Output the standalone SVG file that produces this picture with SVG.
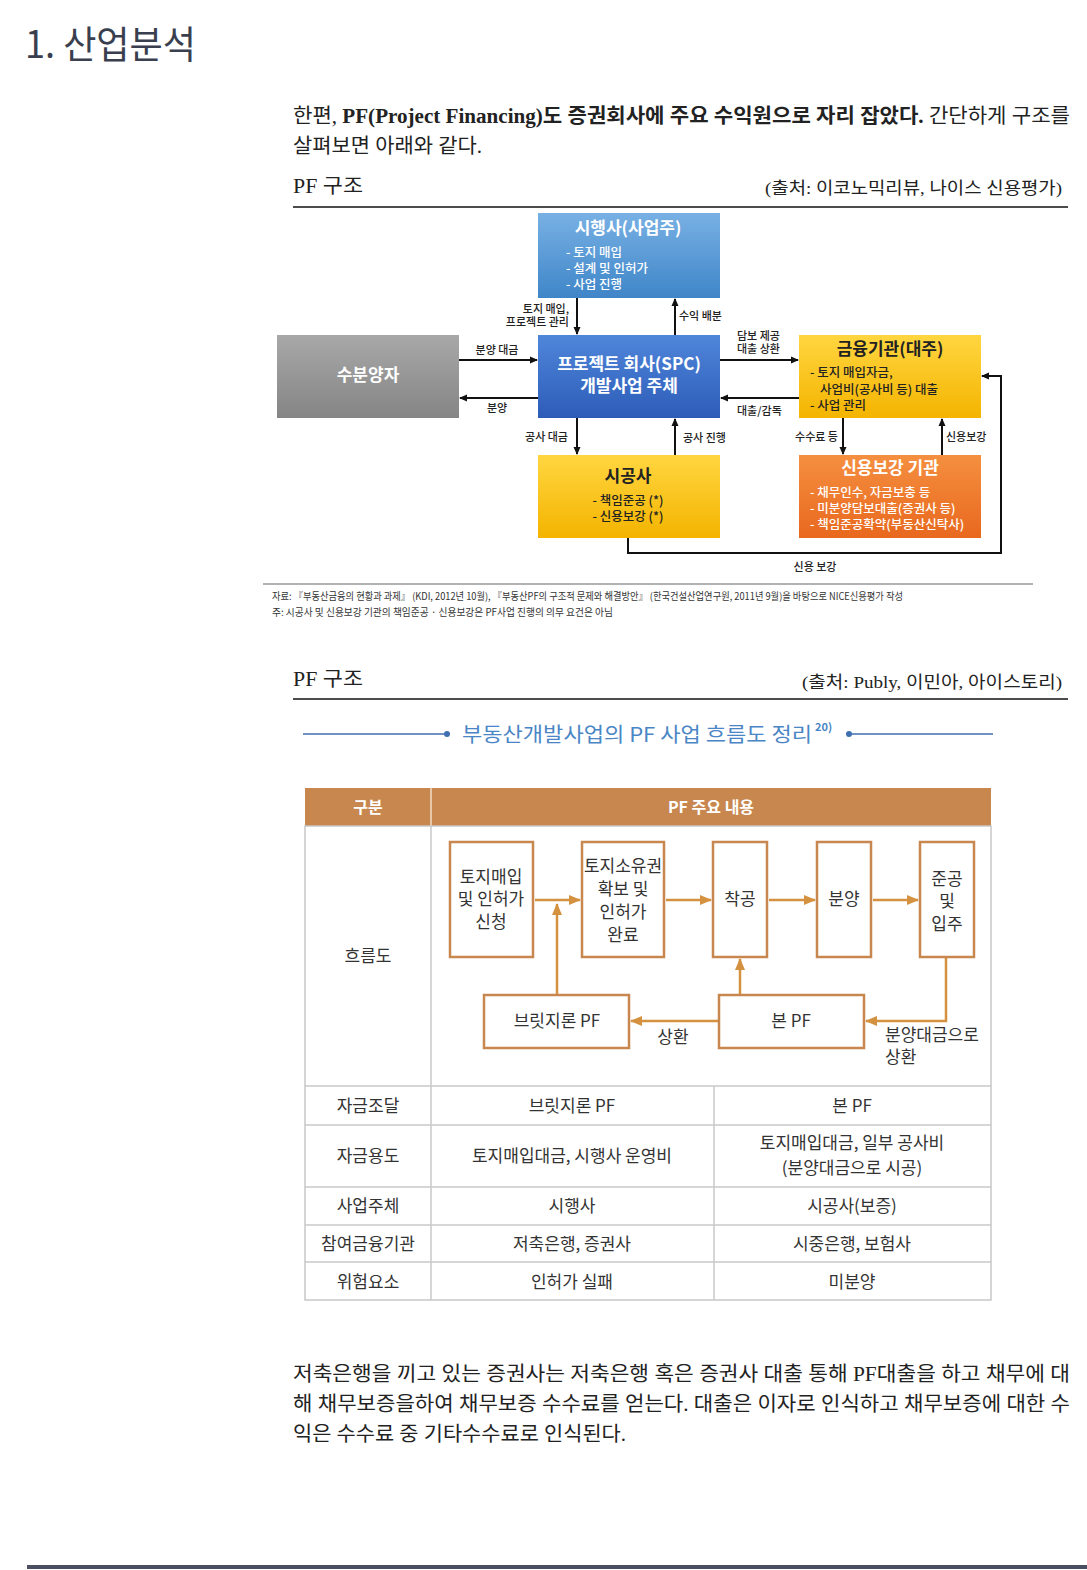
<svg xmlns="http://www.w3.org/2000/svg" width="1087" height="1570" viewBox="0 0 1087 1570">
<defs>
<style>
.serif{font-family:"Liberation Serif","Noto Sans CJK KR",serif;fill:#222}
.sans{font-family:"Noto Sans CJK KR","Noto Sans",sans-serif}
.lbl{font-family:"Noto Sans CJK KR",sans-serif;font-size:11px;font-weight:500;fill:#222}
.bt{font-family:"Noto Sans CJK KR",sans-serif;font-weight:700;font-size:17px}
.it{font-family:"Noto Sans CJK KR",sans-serif;font-weight:500;font-size:12.5px}
.blk{stroke:#111;stroke-width:2;fill:none}
.org{stroke:#d4913f;stroke-width:2.5;fill:none}
.fbox{fill:#fff;stroke:#c8874f;stroke-width:2.5}
.tt{font-family:"Noto Sans CJK KR",sans-serif;font-size:17px;fill:#333;text-anchor:middle}
.ts{font-family:"Noto Sans CJK KR",sans-serif;font-size:17px;fill:#333;text-anchor:start}
.grid{stroke:#c8c8c8;stroke-width:1.5;fill:none}
</style>
<linearGradient id="gBlue1" x1="0" y1="0" x2="0" y2="1"><stop offset="0" stop-color="#78b0e4"/><stop offset="1" stop-color="#3f86c8"/></linearGradient>
<linearGradient id="gBlue2" x1="0" y1="0" x2="0" y2="1"><stop offset="0" stop-color="#4f86da"/><stop offset="1" stop-color="#2d5cb8"/></linearGradient>
<linearGradient id="gGray" x1="0" y1="0" x2="0" y2="1"><stop offset="0" stop-color="#a8a8a8"/><stop offset="1" stop-color="#858585"/></linearGradient>
<linearGradient id="gYel" x1="0" y1="0" x2="0" y2="1"><stop offset="0" stop-color="#ffd640"/><stop offset="1" stop-color="#f4b400"/></linearGradient>
<linearGradient id="gOrg" x1="0" y1="0" x2="0" y2="1"><stop offset="0" stop-color="#f58f40"/><stop offset="1" stop-color="#e8681e"/></linearGradient>
<marker id="ab" markerWidth="8" markerHeight="8" refX="7" refY="4" orient="auto" markerUnits="userSpaceOnUse"><path d="M0,0.5 L8,4 L0,7.5 Z" fill="#111"/></marker>
<marker id="ao" markerWidth="12" markerHeight="12" refX="11" refY="6" orient="auto" markerUnits="userSpaceOnUse"><path d="M0,1 L12,6 L0,11 Z" fill="#d4913f"/></marker>
</defs>
<rect width="1087" height="1570" fill="#fff"/>

<!-- header texts -->
<text x="25" y="58" font-family="Noto Sans CJK KR, sans-serif" font-size="38" fill="#3a3f4f" textLength="171" lengthAdjust="spacingAndGlyphs">1. 산업분석</text>
<text class="serif" x="293" y="123" font-size="20" textLength="777" lengthAdjust="spacingAndGlyphs">한편, <tspan font-weight="bold">PF(Project Financing)도 증권회사에 주요 수익원으로 자리 잡았다.</tspan> 간단하게 구조를</text>
<text class="serif" x="293" y="153" font-size="20" textLength="189" lengthAdjust="spacingAndGlyphs">살펴보면 아래와 같다.</text>
<text class="serif" x="293" y="193" font-size="20" textLength="70" lengthAdjust="spacingAndGlyphs">PF 구조</text>
<text class="serif" x="1062" y="194" font-size="17" text-anchor="end" textLength="297" lengthAdjust="spacingAndGlyphs">(출처: 이코노믹리뷰, 나이스 신용평가)</text>
<line x1="293" y1="207" x2="1068" y2="207" stroke="#111" stroke-width="1.5"/>

<!-- top diagram connectors -->
<g id="connectors-top">
<line class="blk" x1="577" y1="298" x2="577" y2="334" marker-end="url(#ab)"/>
<line class="blk" x1="675" y1="335" x2="675" y2="299" marker-end="url(#ab)"/>
<line class="blk" x1="459" y1="360" x2="537" y2="360" marker-end="url(#ab)"/>
<line class="blk" x1="538" y1="398" x2="460" y2="398" marker-end="url(#ab)"/>
<line class="blk" x1="720" y1="360" x2="798" y2="360" marker-end="url(#ab)"/>
<line class="blk" x1="799" y1="398" x2="721" y2="398" marker-end="url(#ab)"/>
<line class="blk" x1="577" y1="418" x2="577" y2="454" marker-end="url(#ab)"/>
<line class="blk" x1="675" y1="455" x2="675" y2="419" marker-end="url(#ab)"/>
<line class="blk" x1="843" y1="418" x2="843" y2="454" marker-end="url(#ab)"/>
<line class="blk" x1="942" y1="455" x2="942" y2="419" marker-end="url(#ab)"/>
<polyline class="blk" points="628,538 628,553 1001,553 1001,376 982,376" marker-end="url(#ab)"/>
<text class="lbl" x="569" y="313" text-anchor="end">토지 매입,</text>
<text class="lbl" x="569" y="326" text-anchor="end">프로젝트 관리</text>
<text class="lbl" x="679" y="320">수익 배분</text>
<text class="lbl" x="497" y="354" text-anchor="middle">분양 대금</text>
<text class="lbl" x="497" y="412" text-anchor="middle">분양</text>
<text class="lbl" x="737" y="340">담보 제공</text>
<text class="lbl" x="737" y="353">대출 상환</text>
<text class="lbl" x="737" y="415">대출/감독</text>
<text class="lbl" x="568" y="441" text-anchor="end">공사 대금</text>
<text class="lbl" x="683" y="442">공사 진행</text>
<text class="lbl" x="838" y="441" text-anchor="end">수수료 등</text>
<text class="lbl" x="946" y="441">신용보강</text>
<text class="lbl" x="815" y="571" text-anchor="middle">신용 보강</text>
</g>

<!-- top diagram nodes -->
<g id="node-sihaengsa">
<rect x="538" y="213" width="182" height="85" fill="url(#gBlue1)"/>
<text class="bt" x="628" y="234" fill="#fff" text-anchor="middle">시행사(사업주)</text>
<text class="it" x="566" y="257" fill="#fff">- 토지 매입</text>
<text class="it" x="566" y="273" fill="#fff">- 설계 및 인허가</text>
<text class="it" x="566" y="289" fill="#fff">- 사업 진행</text>
</g>
<g id="node-subunyangja">
<rect x="277" y="335" width="182" height="83" fill="url(#gGray)"/>
<text class="bt" x="368" y="381" fill="#fff" text-anchor="middle">수분양자</text>
</g>
<g id="node-spc">
<rect x="538" y="335" width="182" height="83" fill="url(#gBlue2)"/>
<text class="bt" x="629" y="370" fill="#fff" text-anchor="middle" font-size="16">프로젝트 회사(SPC)</text>
<text class="bt" x="629" y="392" fill="#fff" text-anchor="middle" font-size="16">개발사업 주체</text>
</g>
<g id="node-geumyung">
<rect x="799" y="335" width="182" height="83" fill="url(#gYel)"/>
<text class="bt" x="890" y="355" fill="#222" text-anchor="middle">금융기관(대주)</text>
<text class="it" x="810" y="377" fill="#222">- 토지 매입자금,</text>
<text class="it" x="820" y="394" fill="#222">사업비(공사비 등) 대출</text>
<text class="it" x="810" y="410" fill="#222">- 사업 관리</text>
</g>
<g id="node-sigongsa">
<rect x="538" y="455" width="182" height="83" fill="url(#gYel)"/>
<text class="bt" x="628" y="482" fill="#222" text-anchor="middle">시공사</text>
<text class="it" x="628" y="505" fill="#222" text-anchor="middle">- 책임준공 (*)</text>
<text class="it" x="628" y="521" fill="#222" text-anchor="middle">- 신용보강 (*)</text>
</g>
<g id="node-sinyong">
<rect x="799" y="455" width="182" height="83" fill="url(#gOrg)"/>
<text class="bt" x="890" y="474" fill="#fff" text-anchor="middle">신용보강 기관</text>
<text class="it" x="810" y="497" fill="#fff">- 채무인수, 자금보충 등</text>
<text class="it" x="810" y="513" fill="#fff">- 미분양담보대출(증권사 등)</text>
<text class="it" x="810" y="529" fill="#fff">- 책임준공확약(부동산신탁사)</text>
</g>

<line x1="263" y1="584" x2="1033" y2="584" stroke="#999" stroke-width="1.5"/>
<text x="272" y="600" font-family="Noto Sans CJK KR, sans-serif" font-size="10" fill="#333" textLength="631" lengthAdjust="spacingAndGlyphs">자료: 『부동산금융의 현황과 과제』 (KDI, 2012년 10월), 『부동산PF의 구조적 문제와 해결방안』 (한국건설산업연구원, 2011년 9월)을 바탕으로 NICE신용평가 작성</text>
<text x="272" y="616" font-family="Noto Sans CJK KR, sans-serif" font-size="10" fill="#333" textLength="341" lengthAdjust="spacingAndGlyphs">주: 시공사 및 신용보강 기관의 책임준공 · 신용보강은 PF사업 진행의 의무 요건은 아님</text>

<!-- second section -->
<text class="serif" x="293" y="686" font-size="20" textLength="70" lengthAdjust="spacingAndGlyphs">PF 구조</text>
<text class="serif" x="1062" y="688" font-size="17" text-anchor="end" textLength="260" lengthAdjust="spacingAndGlyphs">(출처: Publy, 이민아, 아이스토리)</text>
<line x1="293" y1="699" x2="1068" y2="699" stroke="#111" stroke-width="1.5"/>

<g id="subtitle">
<line x1="303" y1="734" x2="447" y2="734" stroke="#3f6fae" stroke-width="1.5"/>
<circle cx="447" cy="734" r="3" fill="#3f6fae"/>
<text x="462" y="742" font-family="Noto Sans CJK KR, sans-serif" font-size="20" fill="#4a86c5" textLength="350" lengthAdjust="spacingAndGlyphs">부동산개발사업의 PF 사업 흐름도 정리</text>
<text x="815" y="731" font-family="Noto Sans CJK KR, sans-serif" font-size="11" font-weight="700" fill="#4a86c5">20)</text>
<circle cx="849" cy="734" r="3" fill="#3f6fae"/>
<line x1="849" y1="734" x2="993" y2="734" stroke="#3f6fae" stroke-width="1.5"/>
</g>

<!-- table -->
<g id="table">
<rect x="305" y="788" width="686" height="38" fill="#c8874f"/>
<line x1="431" y1="788" x2="431" y2="826" stroke="#f0dcc8" stroke-width="1.5"/>
<text x="368" y="813" font-family="Noto Sans CJK KR, sans-serif" font-size="16" font-weight="700" fill="#fff" text-anchor="middle">구분</text>
<text x="711" y="813" font-family="Noto Sans CJK KR, sans-serif" font-size="16" font-weight="700" fill="#fff" text-anchor="middle">PF 주요 내용</text>
<rect class="grid" x="305" y="826" width="686" height="474"/>
<line class="grid" x1="431" y1="826" x2="431" y2="1300"/>
<line class="grid" x1="714" y1="1086" x2="714" y2="1300"/>
<line class="grid" x1="305" y1="1086" x2="991" y2="1086"/>
<line class="grid" x1="305" y1="1125" x2="991" y2="1125"/>
<line class="grid" x1="305" y1="1187" x2="991" y2="1187"/>
<line class="grid" x1="305" y1="1225" x2="991" y2="1225"/>
<line class="grid" x1="305" y1="1262" x2="991" y2="1262"/>
<text class="tt" x="368" y="962">흐름도</text>
<text class="tt" x="368" y="1112">자금조달</text>
<text class="tt" x="572" y="1112">브릿지론 PF</text>
<text class="tt" x="852" y="1112">본 PF</text>
<text class="tt" x="368" y="1162">자금용도</text>
<text class="tt" x="572" y="1162">토지매입대금, 시행사 운영비</text>
<text class="tt" x="852" y="1149">토지매입대금, 일부 공사비</text>
<text class="tt" x="852" y="1174">(분양대금으로 시공)</text>
<text class="tt" x="368" y="1212">사업주체</text>
<text class="tt" x="572" y="1212">시행사</text>
<text class="tt" x="852" y="1212">시공사(보증)</text>
<text class="tt" x="368" y="1250">참여금융기관</text>
<text class="tt" x="572" y="1250">저축은행, 증권사</text>
<text class="tt" x="852" y="1250">시중은행, 보험사</text>
<text class="tt" x="368" y="1288">위험요소</text>
<text class="tt" x="572" y="1288">인허가 실패</text>
<text class="tt" x="852" y="1288">미분양</text>
</g>

<!-- flow connectors -->
<g id="connectors-flow">
<line class="org" x1="535" y1="900" x2="580" y2="900" marker-end="url(#ao)"/>
<line class="org" x1="666" y1="900" x2="711" y2="900" marker-end="url(#ao)"/>
<line class="org" x1="769" y1="900" x2="815" y2="900" marker-end="url(#ao)"/>
<line class="org" x1="873" y1="900" x2="918" y2="900" marker-end="url(#ao)"/>
<line class="org" x1="557" y1="994" x2="557" y2="904" marker-end="url(#ao)"/>
<line class="org" x1="740" y1="994" x2="740" y2="959" marker-end="url(#ao)"/>
<polyline class="org" points="946,958 946,1021 866,1021" marker-end="url(#ao)"/>
<line class="org" x1="719" y1="1021" x2="631" y2="1021" marker-end="url(#ao)"/>
<text class="tt" x="673" y="1043">상환</text>
<text class="ts" x="885" y="1041">분양대금으로</text>
<text class="ts" x="885" y="1063">상환</text>
</g>

<!-- flow nodes -->
<g id="flow-1"><rect class="fbox" x="450" y="842" width="83" height="115"/>
<text class="tt" x="491" y="883">토지매입</text><text class="tt" x="491" y="905">및 인허가</text><text class="tt" x="491" y="928">신청</text></g>
<g id="flow-2"><rect class="fbox" x="582" y="842" width="82" height="115"/>
<text class="tt" x="623" y="872">토지소유권</text><text class="tt" x="623" y="895">확보 및</text><text class="tt" x="623" y="918">인허가</text><text class="tt" x="623" y="941">완료</text></g>
<g id="flow-3"><rect class="fbox" x="713" y="842" width="54" height="115"/>
<text class="tt" x="740" y="905">착공</text></g>
<g id="flow-4"><rect class="fbox" x="817" y="842" width="54" height="115"/>
<text class="tt" x="844" y="905">분양</text></g>
<g id="flow-5"><rect class="fbox" x="920" y="842" width="54" height="115"/>
<text class="tt" x="947" y="885">준공</text><text class="tt" x="947" y="907">및</text><text class="tt" x="947" y="930">입주</text></g>
<g id="flow-bridge"><rect class="fbox" x="484" y="995" width="145" height="53"/>
<text class="tt" x="557" y="1027">브릿지론 PF</text></g>
<g id="flow-main"><rect class="fbox" x="719" y="995" width="145" height="53"/>
<text class="tt" x="791" y="1027">본 PF</text></g>

<!-- bottom paragraph -->
<text class="serif" x="293" y="1381" font-size="20" textLength="777" lengthAdjust="spacingAndGlyphs">저축은행을 끼고 있는 증권사는 저축은행 혹은 증권사 대출 통해 PF대출을 하고 채무에 대</text>
<text class="serif" x="293" y="1411" font-size="20" textLength="777" lengthAdjust="spacingAndGlyphs">해 채무보증을하여 채무보증 수수료를 얻는다. 대출은 이자로 인식하고 채무보증에 대한 수</text>
<text class="serif" x="293" y="1441" font-size="20" textLength="333" lengthAdjust="spacingAndGlyphs">익은 수수료 중 기타수수료로 인식된다.</text>

<rect x="27" y="1565" width="1060" height="4" fill="#4a5062"/>
</svg>
